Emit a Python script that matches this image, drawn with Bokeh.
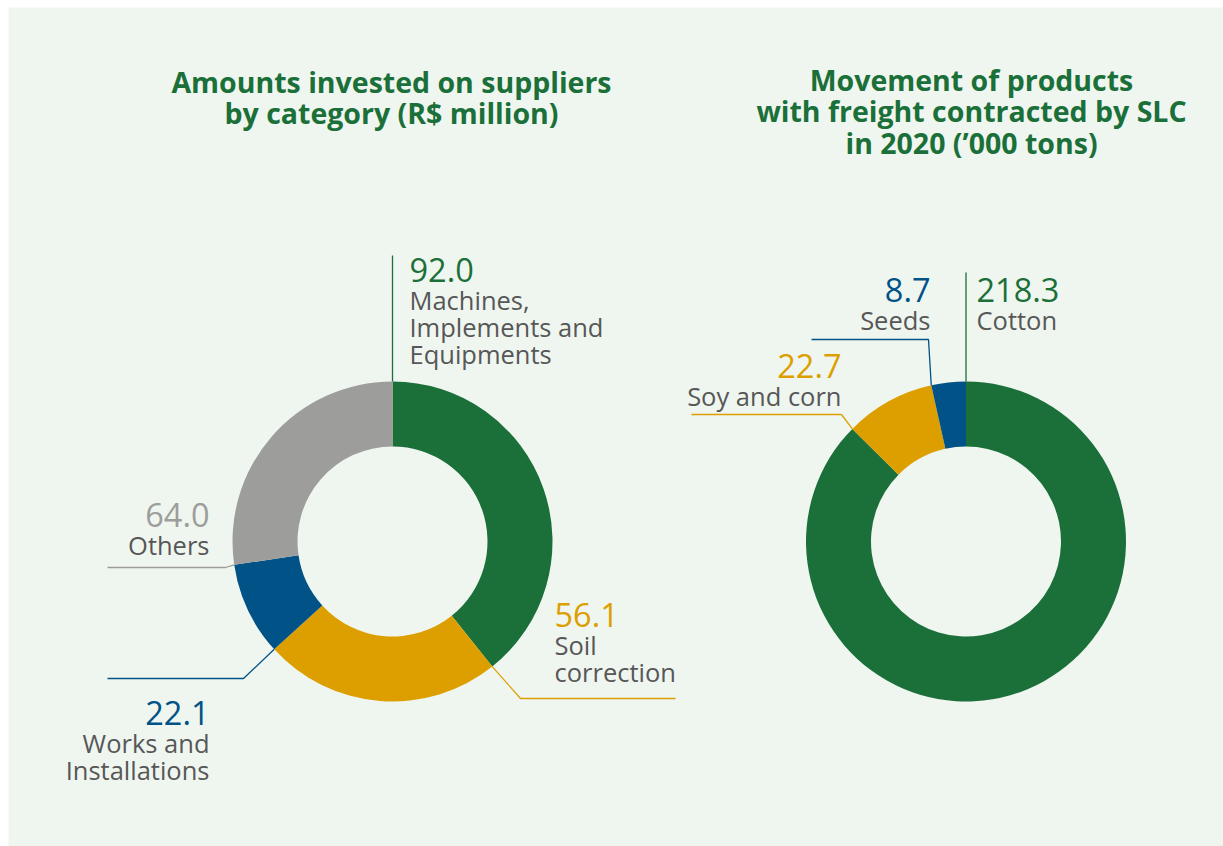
import math
from bokeh.plotting import figure
from bokeh.models import Range1d
from bokeh.core.properties import value
from bokeh.embed import file_html
from bokeh.resources import INLINE

# ---------------- data ----------------
left_categories = ["Machines, Implements and Equipments", "Soil correction", "Works and Installations", "Others"]
left_values = [92.0, 56.1, 22.1, 64.0]
left_colors = ["#1b6f38", "#dd9f00", "#015286", "#9d9d9b"]

right_categories = ["Cotton", "Soy and corn", "Seeds"]
right_values = [218.3, 22.7, 8.7]
right_colors = ["#1b6f38", "#dd9f00", "#015286"]

left_title = ["Amounts invested on suppliers", "by category (R$ million)"]
right_title = ["Movement of products", "with freight contracted by SLC", "in 2020 (\u2019000 tons)"]

# ---------------- layout helpers ----------------
W, H = 1223, 846
PW, PH = 1215, 839
BG = "#eff6f0"
TXT = "#575757"
GREEN = "#1b6f38"
FONT = "Open Sans"


def X(px):
    return px - 8


def Y(py):
    return H - py


p = figure(width=W, height=H, x_range=Range1d(0, PW), y_range=Range1d(0, PH),
           output_backend="svg", toolbar_location=None,
           min_border_left=8, min_border_top=7, min_border_right=0, min_border_bottom=0,
           background_fill_color=BG, border_fill_color="white", outline_line_color=None)
p.axis.visible = False
p.grid.visible = False

R_OUT, R_IN = 160, 95


def fractions(vals):
    tot = sum(vals)
    cum = [0.0]
    for v in vals:
        cum.append(cum[-1] + v / tot)
    return cum


def draw_donut(cx, cy, vals, colors):
    cum = fractions(vals)
    starts = [math.pi / 2 - 2 * math.pi * c for c in cum[:-1]]
    ends = [math.pi / 2 - 2 * math.pi * c for c in cum[1:]]
    p.annular_wedge(x=[cx] * len(vals), y=[cy] * len(vals), inner_radius=R_IN, outer_radius=R_OUT,
                    inner_radius_units="screen", outer_radius_units="screen",
                    start_angle=starts, end_angle=ends, direction="clock",
                    fill_color=colors, line_color=None)
    return cum


def edge_point(cx, cy, frac):
    a = 2 * math.pi * frac
    return cx + R_OUT * math.sin(a), cy + R_OUT * math.cos(a)


def leader(pts, color):
    p.line([q[0] for q in pts], [q[1] for q in pts], line_color=color, line_width=1.3)


def label(x, y, num, lines, color, align):
    p.text(x=[x], y=[y], text=[num], text_color=color, text_font=value(FONT),
           text_font_size="32.5px", text_align=align, text_baseline="middle")
    for i, t in enumerate(lines):
        p.text(x=[x], y=[y - 30 - 27 * i], text=[t], text_color=TXT, text_font=value(FONT),
               text_font_size="25.5px", text_align=align, text_baseline="middle", text_font_style="normal")


# ---------------- left donut ----------------
lcx, lcy = X(392), Y(541)
lcum = draw_donut(lcx, lcy, left_values, left_colors)

# Machines
sx, sy = edge_point(lcx, lcy, lcum[0])
leader([(sx, sy), (sx, Y(255))], left_colors[0])
label(X(409), Y(269), f"{left_values[0]:.1f}", ["Machines,", "Implements and", "Equipments"], left_colors[0], "left")
# Soil correction
sx, sy = edge_point(lcx, lcy, lcum[1])
leader([(sx, sy), (X(520), Y(698)), (X(675), Y(698))], left_colors[1])
label(X(554), Y(614), f"{left_values[1]:.1f}", ["Soil", "correction"], left_colors[1], "left")
# Works
sx, sy = edge_point(lcx, lcy, lcum[2])
leader([(sx, sy), (X(243), Y(678)), (X(107), Y(678))], left_colors[2])
label(X(209), Y(712), f"{left_values[2]:.1f}", ["Works and", "Installations"], left_colors[2], "right")
# Others
sx, sy = edge_point(lcx, lcy, lcum[3])
leader([(sx, sy), (X(225), Y(567)), (X(107), Y(567))], left_colors[3])
label(X(209), Y(514), f"{left_values[3]:.1f}", ["Others"], left_colors[3], "right")

# ---------------- right donut ----------------
rcx, rcy = X(965.5), Y(541)
rcum = draw_donut(rcx, rcy, right_values, right_colors)

sx, sy = edge_point(rcx, rcy, rcum[0])
leader([(sx, sy), (sx, Y(272))], right_colors[0])
label(X(976), Y(289), f"{right_values[0]:.1f}", ["Cotton"], right_colors[0], "left")

sx, sy = edge_point(rcx, rcy, rcum[1])
leader([(sx, sy), (X(841), Y(414)), (X(691), Y(414))], right_colors[1])
label(X(841), Y(365), f"{right_values[1]:.1f}", ["Soy and corn"], right_colors[1], "right")

sx, sy = edge_point(rcx, rcy, rcum[2])
leader([(sx, sy), (X(928), Y(339)), (X(811), Y(339))], right_colors[2])
label(X(930), Y(289), f"{right_values[2]:.1f}", ["Seeds"], right_colors[2], "right")

# ---------------- titles ----------------
for i, t in enumerate(left_title):
    p.text(x=[X(391)], y=[Y(81 + 31 * i)], text=[t], text_color=GREEN, text_font=value(FONT),
           text_font_size="28.5px", text_font_style="bold", text_align="center", text_baseline="middle")
for i, t in enumerate(right_title):
    p.text(x=[X(971)], y=[Y(79 + 31.5 * i)], text=[t], text_color=GREEN, text_font=value(FONT),
           text_font_size="28.5px", text_font_style="bold", text_align="center", text_baseline="middle")

open("out.html", "w").write(file_html(p, INLINE))
